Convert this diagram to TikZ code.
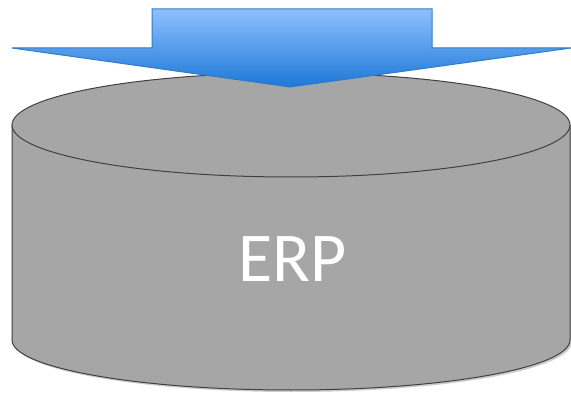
\documentclass[tikz,border=0pt]{standalone}
\usepackage{fontspec}
\setmainfont{Carlito}
\definecolor{drumgrey}{HTML}{A6A6A6}
\definecolor{drumline}{HTML}{404040}
\definecolor{arrowtop}{HTML}{8EC0FF}
\definecolor{arrowbot}{HTML}{1E78D8}
\definecolor{arrowline}{HTML}{2F7DC6}
\begin{document}
\begin{tikzpicture}[x=1pt, y=-1pt,
    drum/.style={fill=drumgrey, draw=drumline, line width=1pt},
    bigarrow/.style={top color=arrowtop, bottom color=arrowbot, draw=arrowline, line width=1pt, line join=miter}]

        \useasboundingbox (0,0) rectangle (571,393);

        % Body of the drum
        \fill[black!20, xshift=2pt, yshift=-2pt]
            (12,125) -- (12,340) arc[start angle=180, end angle=0, x radius=279, y radius=50]
            -- (570,125) -- cycle;
        \draw[drum] (12,125) -- (12,340)
            arc[start angle=180, end angle=0, x radius=279, y radius=50]
            -- (570,125);
        % Lid
        \draw[drum] (291,125) ellipse[x radius=279, y radius=52];

        % Arrow pointing down
        \draw[bigarrow] (152,9) -- (432,9) -- (432,48) -- (571,48)
            -- (290,87) -- (12,48) -- (152,48) -- cycle;

        % label
        \node[text=white, font=\fontsize{70}{70}\selectfont] (erp) at (293,259) {ERP};
    \end{tikzpicture}
\end{document}
